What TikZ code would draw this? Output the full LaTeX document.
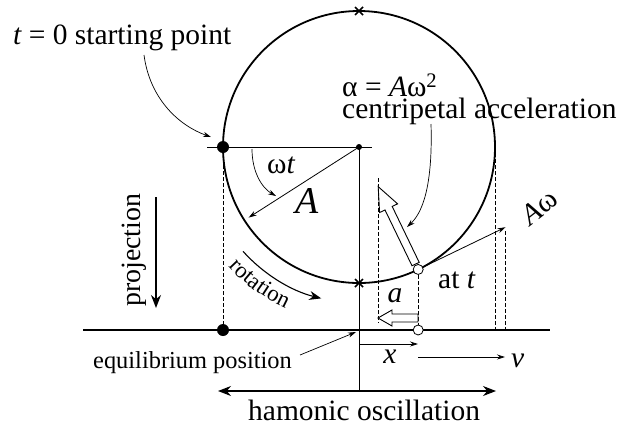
\documentclass[tikz,border=0pt]{standalone}
\usepackage{fontspec}
\setmainfont{Liberation Serif}
\usetikzlibrary{arrows.meta,calc,decorations.text}
\begin{document}
\begin{tikzpicture}[x=1bp,y=-1bp,
  lbl/.style={inner sep=0pt, font=\fontsize{29.6}{30}\selectfont},
  thinln/.style={line width=0.8bp},
  dashln/.style={line width=0.8bp, dash pattern=on 4bp off 2bp},
  note/.style={line width=0.7bp, -{Stealth[length=8bp,width=5bp]}},
  hollow/.style={line width=0.9bp, fill=white},
  bigarrow/.style={line width=1.3bp, -{Stealth[length=13bp,width=10bp]}},
  dotbig/.style={circle, fill=black, inner sep=0pt, minimum size=12bp},
  dotopen/.style={circle, draw=black, fill=white, line width=0.8bp, inner sep=0pt, minimum size=10bp},
]
\useasboundingbox (0,0) rectangle (617,430);
% geometry
\coordinate (C) at (359,147);
\coordinate (P0) at ($(C)+(64.2:136)$);
\coordinate (V) at ($(P0)+(-25.8:97)$);
\coordinate (Atip) at ($(C)+(147.4:131)$);
\coordinate (R) at ($(C)+(136,0)$);
% circle
\node[circle, draw, line width=1.8bp, minimum size=272bp, inner sep=0pt] (circ) at (C) {};
% crosses
\draw[line width=1.5bp] (355,7)--(363,15) (355,15)--(363,7);
\draw[line width=1.5bp] (355,279)--(363,287) (355,287)--(363,279);
% axis
\coordinate (axL) at (83,330);
\coordinate (axR) at (550,330);
\draw[line width=2bp] (axL) -- (axR);
% horizontal radius line & vertical center line
\draw[thinln] (207,147) -- (372,147);
\draw[thinln] (C) -- (359,392);
% A radius arrow
\draw[thinln, -{Stealth[length=8bp,width=5bp]}] (C) -- (Atip);
% dashed projections
\node[dotbig] (dL) at (223,147) {};
\node[dotbig] (dL0) at (223,330) {};
\draw[dashln] (dL) -- (dL0);
\draw[dashln] (R) -- (R |- axL);
\draw[dashln] ($(V)+(0,4)$) -- (V |- axL);
\draw[dashln] (378,178) -- (378,323);
\draw[dashln] (P0) -- (P0 |- axL);
% velocity
\draw[thinln, -{Stealth[length=8bp,width=5bp]}] (P0) -- (V);
% centripetal hollow arrow
\draw[hollow] ($(P0)+(1.0,-7.1)$) -- ($(P0)+(-26.0,-63.0)$) -- ($(P0)+(-20.6,-65.6)$)
  -- ($(P0)+(-40.0,-82.8)$) -- ($(P0)+(-38.6,-56.9)$) -- ($(P0)+(-33.2,-59.5)$)
  -- ($(P0)+(-6.2,-3.7)$) -- cycle;
% small hollow arrow a
\draw[hollow] (418,314) -- (392,314) -- (392,310) -- (378,318) -- (392,326) -- (392,322) -- (418,322) -- cycle;
% points
\node[dotopen] (P) at (P0) {};
\node[dotopen] (Pp) at (P0 |- axL) {};
\node[circle, fill=black, inner sep=0pt, minimum size=6bp] (cdot) at (C) {};
% x and v arrows
\coordinate (x0) at (359,344);
\coordinate (x1) at (418,344);
\draw[thinln, -{Stealth[length=8bp,width=5bp]}] (x0) -- (x1);
\coordinate (v0) at (418,357);
\coordinate (v1) at (505,357);
\draw[thinln, -{Stealth[length=8bp,width=5bp]}] (v0) -- (v1);
% harmonic oscillation
\coordinate (h0) at (218,391);
\coordinate (h1) at (496,391);
\draw[line width=1.2bp, {Stealth[length=13bp,width=10bp]}-{Stealth[length=13bp,width=10bp]}] (h0) -- (h1);
% projection arrow
\coordinate (pr0) at (156,197);
\coordinate (pr1) at (156,308);
\draw[bigarrow] (pr0) -- (pr1);
% rotation arrow
\draw[line width=1.1bp, -{Stealth[length=12bp,width=9bp]}] ($(C)+(138:156)$) arc[start angle=138, end angle=104, radius=156];
% rotation text along an arc
\path[decorate, decoration={text along path, text align=center,
  text format delimiters={|}{|},
  text={|\fontsize{23}{23}\selectfont|rotation}}]
  ($(C)+(143:177)$) arc[start angle=143, end angle=109, radius=177];
% omega t arrow
\draw[note] (252,149) .. controls (252,172) and (262,188) .. (276,196);
% annotation arrows
\coordinate (n0) at (144,55);
\coordinate (n1) at (211,137);
\draw[note] (n0) .. controls (150,100) and (180,126) .. (n1);
\coordinate (c0) at (431,124);
\coordinate (c1) at (407,227);
\draw[note] (c0) .. controls (433,190) and (421,214) .. (c1);
\coordinate (e0) at (300,355);
\coordinate (e1) at (356,332);
\draw[note] (e0) -- (e1);
% labels
\node[lbl, anchor=base west] (t0) at (13,44) {{\itshape t} = 0 starting point};
\node[lbl, anchor=base west] (alpha) at (342,96) {α = {\itshape A}ω\textsuperscript{2}};
\node[lbl, anchor=base west] (cent) at (342,118) {centripetal acceleration};
\node[lbl, anchor=base] (wt) at (281,173) {ω{\itshape t}};
\node[inner sep=0pt, font=\fontsize{38}{38}\selectfont\itshape, anchor=base] (Alab) at (307,213) {A};
\node[inner sep=0pt, font=\fontsize{28}{28}\selectfont, anchor=base west, rotate=90] (proj) at (140,307) {projection};
\node[lbl, anchor=base west] (att) at (438,288) {at {\itshape t}};
\node[lbl, anchor=base, font=\fontsize{29.6}{30}\selectfont\itshape] (alab) at (395,302) {a};
\node[lbl, rotate=38] (Aw) at (539,207) {{\itshape A}ω};
\node[lbl, anchor=base, font=\fontsize{29.6}{30}\selectfont\itshape] (xlab) at (390,363) {x};
\node[lbl, anchor=base west, font=\fontsize{29.6}{30}\selectfont\itshape] (vlab) at (511,367) {v};
\node[inner sep=0pt, font=\fontsize{24.5}{25}\selectfont, anchor=base west] (eq) at (93,368) {equilibrium position};
\node[lbl, anchor=base west] (ho) at (248,420) {hamonic oscillation};
\end{tikzpicture}
\end{document}
